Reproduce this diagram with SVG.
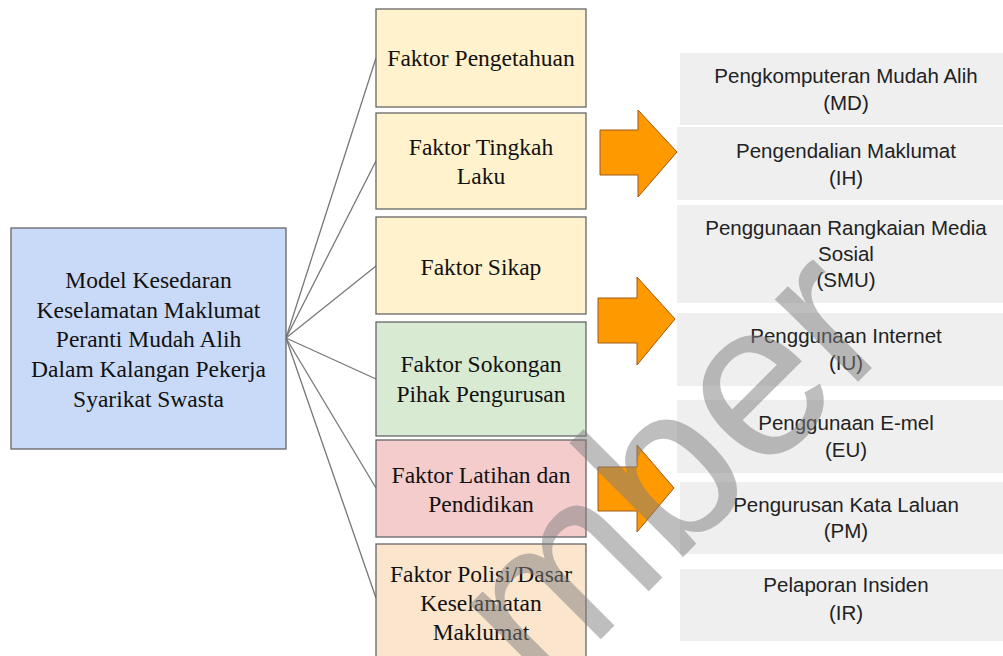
<svg xmlns="http://www.w3.org/2000/svg" width="1003" height="656" viewBox="0 0 1003 656">
<style>
.serif{font-family:"Liberation Serif","Times New Roman",serif;font-size:23.5px;fill:#111;text-anchor:middle}
.sans{font-family:"Liberation Sans",Arial,sans-serif;font-size:20.5px;fill:#222;text-anchor:middle}
.mid{stroke:#666;stroke-width:1.3}
.gray{fill:#efefef}
.arrow{fill:#ff9900;stroke:#a0581a;stroke-width:1}
.conn{stroke:#777;stroke-width:1.3;fill:none}
.wm{font-family:"Liberation Sans",Arial,sans-serif;font-size:222px;fill:#7f7f7f;opacity:0.5}
</style>
<rect width="1003" height="656" fill="#fff"/>
<g id="connectors">
<line class="conn" x1="286" y1="338" x2="376" y2="58"/>
<line class="conn" x1="286" y1="338" x2="376" y2="161"/>
<line class="conn" x1="286" y1="338" x2="376" y2="266"/>
<line class="conn" x1="286" y1="338" x2="376" y2="379"/>
<line class="conn" x1="286" y1="338" x2="376" y2="488"/>
<line class="conn" x1="286" y1="338" x2="376" y2="598"/>
</g>
<g id="model">
<rect x="11" y="228" width="275" height="221" fill="#c9daf8" stroke="#666" stroke-width="1.3"/>
<text class="serif"><tspan x="148.5" y="288">Model Kesedaran</tspan><tspan x="148.5" y="318">Keselamatan Maklumat</tspan><tspan x="148.5" y="347">Peranti Mudah Alih</tspan><tspan x="148.5" y="377">Dalam Kalangan Pekerja</tspan><tspan x="148.5" y="407">Syarikat Swasta</tspan></text>
</g>
<g id="f-pengetahuan">
<rect class="mid" x="376" y="9" width="210" height="98" fill="#fff2cc"/>
<text class="serif" x="481" y="66">Faktor Pengetahuan</text>
</g>
<g id="f-tingkahlaku">
<rect class="mid" x="376" y="113" width="210" height="96" fill="#fff2cc"/>
<text class="serif"><tspan x="481" y="155">Faktor Tingkah</tspan><tspan x="481" y="184">Laku</tspan></text>
</g>
<g id="f-sikap">
<rect class="mid" x="376" y="217" width="210" height="97" fill="#fff2cc"/>
<text class="serif" x="481" y="275">Faktor Sikap</text>
</g>
<g id="f-sokongan">
<rect class="mid" x="376" y="322" width="210" height="114" fill="#d9ead3"/>
<text class="serif"><tspan x="481" y="372">Faktor Sokongan</tspan><tspan x="481" y="402">Pihak Pengurusan</tspan></text>
</g>
<g id="f-latihan">
<rect class="mid" x="376" y="440" width="210" height="97" fill="#f4cccc"/>
<text class="serif"><tspan x="481" y="483">Faktor Latihan dan</tspan><tspan x="481" y="512">Pendidikan</tspan></text>
</g>
<g id="f-polisi">
<rect class="mid" x="376" y="544" width="210" height="114" fill="#fce5cd"/>
<text class="serif"><tspan x="481" y="582">Faktor Polisi/Dasar</tspan><tspan x="481" y="611">Keselamatan</tspan><tspan x="481" y="640">Maklumat</tspan></text>
</g>
<g id="md">
<rect class="gray" x="680" y="53" width="323" height="72"/>
<text class="sans"><tspan x="846" y="83">Pengkomputeran Mudah Alih</tspan><tspan x="846" y="110">(MD)</tspan></text>
</g>
<g id="ih">
<rect class="gray" x="677" y="127" width="326" height="73"/>
<text class="sans"><tspan x="846" y="158">Pengendalian Maklumat</tspan><tspan x="846" y="185">(IH)</tspan></text>
</g>
<g id="smu">
<rect class="gray" x="677" y="205" width="326" height="98"/>
<text class="sans"><tspan x="846" y="235">Penggunaan Rangkaian Media</tspan><tspan x="846" y="261">Sosial</tspan><tspan x="846" y="287">(SMU)</tspan></text>
</g>
<g id="iu">
<rect class="gray" x="677" y="313" width="326" height="73"/>
<text class="sans"><tspan x="846" y="343">Penggunaan Internet</tspan><tspan x="846" y="370">(IU)</tspan></text>
</g>
<g id="eu">
<rect class="gray" x="677" y="400" width="326" height="73"/>
<text class="sans"><tspan x="846" y="430">Penggunaan E-mel</tspan><tspan x="846" y="457">(EU)</tspan></text>
</g>
<g id="pm">
<rect class="gray" x="680" y="482" width="323" height="72"/>
<text class="sans"><tspan x="846" y="512">Pengurusan Kata Laluan</tspan><tspan x="846" y="538">(PM)</tspan></text>
</g>
<g id="ir">
<rect class="gray" x="680" y="569" width="323" height="72"/>
<text class="sans"><tspan x="846" y="592">Pelaporan Insiden</tspan><tspan x="846" y="620">(IR)</tspan></text>
</g>
<g id="arrows">
<polygon class="arrow" points="600,130 638,130 638,110 677,152 638,197 638,175 600,175"/>
<polygon class="arrow" points="598,298 637,298 637,277 675,319 637,365 637,343 598,343"/>
<polygon class="arrow" points="598,467 637,467 637,445 674,488 637,532 637,511 598,511"/>
</g>
<text class="wm" transform="translate(542,698) rotate(-45)">mber</text>
</svg>
